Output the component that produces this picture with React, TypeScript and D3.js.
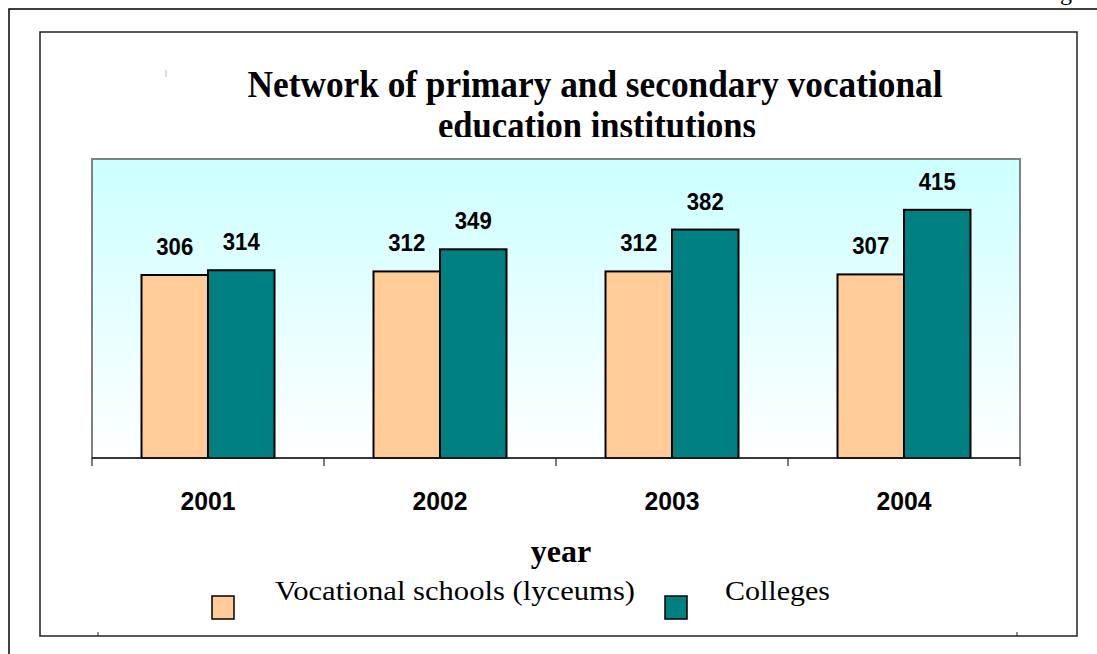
import React from "react";
import * as d3 from "d3";

const years = ["2001", "2002", "2003", "2004"];
const series = ["Vocational schools (lyceums)", "Colleges"];
const lyceums = [306, 312, 312, 307];
const colleges = [314, 349, 382, 415];
const colors = ["#FFCC99", "#008080"];

const W = 1097;
const H = 654;
const plot = { left: 92, right: 1020, top: 159, bottom: 458 };

export default function App() {
  const x0 = d3.scaleBand().domain(years).range([plot.left, plot.right]).paddingInner(0).paddingOuter(0);
  const groupW = 133;
  const x1 = d3.scaleBand().domain(series).range([0, groupW]).padding(0);
  const y = d3.scaleLinear().domain([0, 500]).range([plot.bottom, plot.top]);
  const data = [lyceums, colleges];
  const ticks = [plot.left, ...years.map((yr) => (x0(yr) as number) + x0.bandwidth())];

  return (
    <svg width={W} height={H} style={{ position: "absolute", left: 0, top: 0, background: "#fff" }}>
      <defs>
        <linearGradient id="bg" x1="0" y1="0" x2="0" y2="1">
          <stop offset="0" stopColor="#CCFFFF" />
          <stop offset="1" stopColor="#FFFFFF" />
        </linearGradient>
        <clipPath id="t2">
          <rect x={0} y={0} width={W} height={137} />
        </clipPath>
      </defs>
      {/* outer frame */}
      <path d={`M9,${H} V9 H${W}`} fill="none" stroke="#000" strokeWidth={1.5} />
      <text x={1060} y={0} fontFamily="Liberation Serif, Times New Roman, serif" fontSize={24}>g</text>
      {/* inner box */}
      <rect x={40} y={32} width={1037} height={604} fill="#fff" stroke="#222" strokeWidth={1.5} />
      <line x1={98} x2={98} y1={632} y2={636} stroke="#222" strokeWidth={1} />
      <line x1={1017} x2={1017} y1={632} y2={636} stroke="#222" strokeWidth={1} />
      <line x1={166} x2={166} y1={70} y2={77} stroke="#bbb" strokeWidth={1} />
      {/* title */}
      <g fontFamily="Liberation Serif, Times New Roman, serif" fontWeight="bold" fill="#000">
        <text x={595} y={97} fontSize={37} textAnchor="middle" textLength={695} lengthAdjust="spacingAndGlyphs">
          Network of primary and secondary vocational
        </text>
        <text x={597} y={138} fontSize={37} textAnchor="middle" textLength={318} lengthAdjust="spacingAndGlyphs" clipPath="url(#t2)">
          education institutions
        </text>
      </g>
      {/* plot area */}
      <rect x={plot.left} y={plot.top} width={plot.right - plot.left} height={plot.bottom - plot.top} fill="url(#bg)" stroke="#808080" strokeWidth={2} />
      {years.map((yr, i) => {
        const gx = (x0(yr) as number) + (x0.bandwidth() - groupW) / 2;
        return (
          <g key={yr}>
            {series.map((s, j) => {
              const v = data[j][i];
              const bx = gx + (x1(s) as number);
              return (
                <g key={s}>
                  <rect x={bx} y={y(v)} width={x1.bandwidth()} height={plot.bottom - y(v)} fill={colors[j]} stroke="#000" strokeWidth={2} />
                  <text x={bx + x1.bandwidth() / 2} y={y(v) - 20} textAnchor="middle" fontFamily="Liberation Sans, Arial, sans-serif" fontWeight="bold" fontSize={23} textLength={37} lengthAdjust="spacingAndGlyphs">
                    {v}
                  </text>
                </g>
              );
            })}
            <text x={(x0(yr) as number) + x0.bandwidth() / 2} y={510} textAnchor="middle" fontFamily="Liberation Sans, Arial, sans-serif" fontWeight="bold" fontSize={26} textLength={55} lengthAdjust="spacingAndGlyphs">
              {yr}
            </text>
          </g>
        );
      })}
      {/* axis */}
      <line x1={plot.left} x2={plot.right} y1={plot.bottom} y2={plot.bottom} stroke="#222" strokeWidth={1.5} />
      {ticks.map((t, i) => (
        <line key={i} x1={t} x2={t} y1={plot.bottom} y2={plot.bottom + 8} stroke="#222" strokeWidth={1.2} />
      ))}
      <text x={561} y={562} textAnchor="middle" fontFamily="Liberation Serif, Times New Roman, serif" fontWeight="bold" fontSize={32}>
        year
      </text>
      {/* legend */}
      <rect x={212} y={596} width={22} height={23} fill={colors[0]} stroke="#000" strokeWidth={1.5} />
      <text x={275} y={600} fontFamily="Liberation Serif, Times New Roman, serif" fontSize={27} textLength={360} lengthAdjust="spacingAndGlyphs">
        {series[0]}
      </text>
      <rect x={665} y={596} width={22} height={23} fill={colors[1]} stroke="#000" strokeWidth={1.5} />
      <text x={725} y={600} fontFamily="Liberation Serif, Times New Roman, serif" fontSize={27} textLength={105} lengthAdjust="spacingAndGlyphs">
        {series[1]}
      </text>
    </svg>
  );
}
